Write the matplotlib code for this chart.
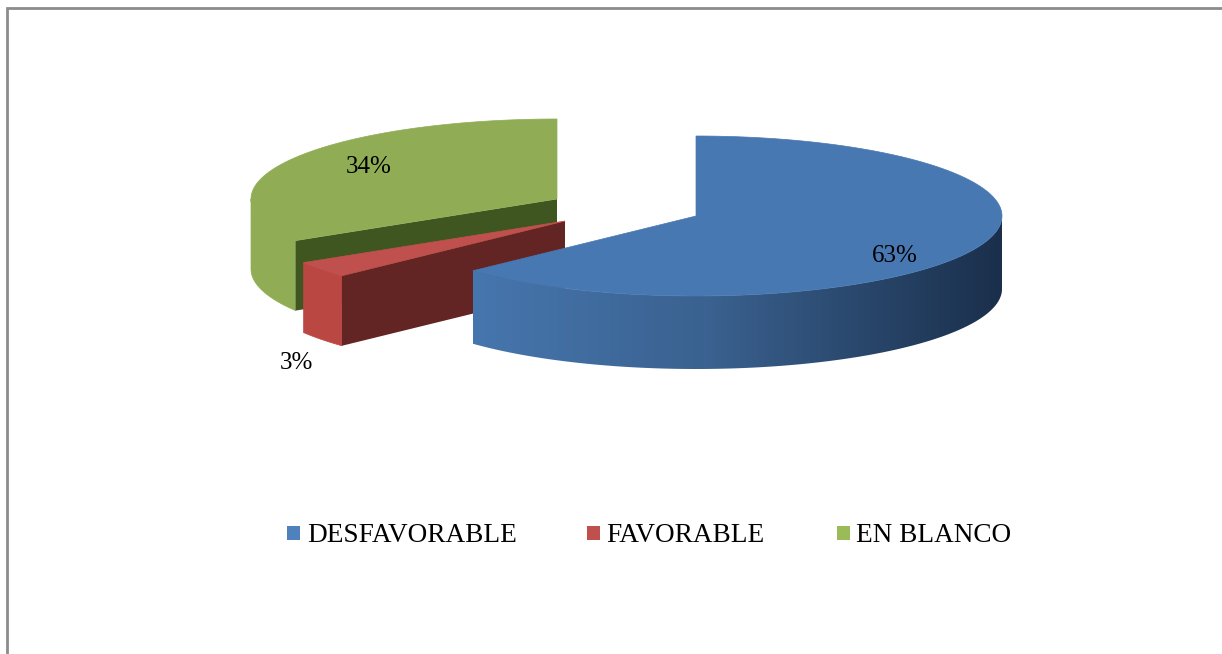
import numpy as np
import matplotlib
matplotlib.use("Agg")
import matplotlib.pyplot as plt
from matplotlib.patches import Polygon, Rectangle
from matplotlib.colors import LinearSegmentedColormap

# Data
categories = ["DESFAVORABLE", "FAVORABLE", "EN BLANCO"]
shares = [63, 3.3, 33.7]
share_labels = ["63%", "3%", "34%"]

# Layout (pixels of the picture)
W, H = 1222, 654
RX, RY = 306, 80
depth = [73, 70, 70]
apex = [(696, 216), (565, 221), (557, 199)]
top_col = ["#4878b2", "#c0504d", "#90ad56"]
wall_col = ["#4676ae", "#bb4743", "#90ad56"]
cut_col = ["#2c4a70", "#632523", "#3f5621"]
legend_col = ["#4f81bd", "#c0504d", "#9bbb59"]
label_pos = [(895, 256), (296, 363), (369, 167)]
legend_box_x = [287, 587, 837]
legend_text_x = [307, 606, 856]
legend_y = 535

fig = plt.figure(figsize=(W / 100, H / 100), dpi=100)
ax = fig.add_axes([0, 0, 1, 1])
ax.axis("off")

# Slice angles, clockwise from the top
ends = 90 - np.cumsum(shares) * 3.6
starts = np.concatenate(([90], ends[:-1]))


def rim(i, deg):
    a = np.radians(deg)
    return apex[i][0] + RX * np.cos(a), apex[i][1] - RY * np.sin(a)


def arc(i, a, b, n=120):
    x, y = rim(i, np.linspace(a, b, n))
    return np.column_stack([x, y])


def top_face(i):
    pts = np.vstack([[apex[i]], arc(i, starts[i], ends[i])])
    ax.add_patch(Polygon(pts, closed=True, fc=top_col[i], ec=top_col[i], lw=0.5, zorder=zo[i] + 0.3))


def wall(i, a, b, color):
    pts = arc(i, a, b)
    low = pts[::-1] + [0, depth[i]]
    p = Polygon(np.vstack([pts, low]), closed=True, fc=color, ec=color, lw=0.5, zorder=zo[i])
    ax.add_patch(p)
    return p


def cut_face(i, deg):
    x, y = rim(i, deg)
    cx, cy = apex[i]
    pts = [(cx, cy), (x, y), (x, y + depth[i]), (cx, cy + depth[i])]
    ax.add_patch(Polygon(pts, closed=True, fc=cut_col[i], ec="none", zorder=zo[i] + 0.1))


zo = [3, 2, 1]

# Green slice, at the back
wall(2, ends[1], -180, wall_col[2])
cut_face(2, ends[1])
top_face(2)

# Red slice
wall(1, ends[0], ends[1], wall_col[1])
cut_face(1, ends[0])
top_face(1)

# Blue slice, the outer wall darkens to the right
shape = wall(0, ends[0], 0, "none")
cmap = LinearSegmentedColormap.from_list("wall", [(0, "#4676ae"), (0.45, "#3a618f"), (1, "#1a2f4b")])
x0, x1 = rim(0, ends[0])[0], rim(0, 0)[0]
img = ax.imshow(np.linspace(0, 1, 256)[None, :], cmap=cmap, aspect="auto", zorder=3,
                extent=[x0, x1, apex[0][1] + RY + depth[0], apex[0][1]])
img.set_clip_path(shape)
top_face(0)

ax.set_xlim(0, W)
ax.set_ylim(H, 0)

for i, txt in enumerate(share_labels):
    ax.text(label_pos[i][0], label_pos[i][1], txt, family="Liberation Serif", fontsize=18,
            color="black", ha="center", va="center", zorder=10)

# Legend
for i, name in enumerate(categories):
    ax.add_patch(Rectangle((legend_box_x[i], legend_y - 9), 13, 14, fc=legend_col[i], ec="none"))
    ax.text(legend_text_x[i], legend_y, name, family="Liberation Serif", fontsize=19.6,
            color="black", ha="left", va="center")

# Frame of the picture
ax.plot([7, 7, W], [H, 8, 8], color="#8c8c8c", lw=2, solid_joinstyle="miter")

fig.savefig("out.png", dpi=100, facecolor="white")
